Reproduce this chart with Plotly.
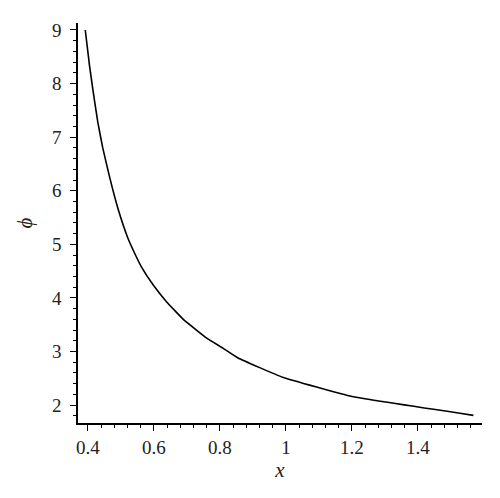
import plotly.graph_objects as go

x_vals = [0.392, 0.405, 0.415, 0.430, 0.445, 0.466, 0.491, 0.521, 0.542, 0.563, 0.598, 0.638, 0.689, 0.729, 0.760, 0.810, 0.855, 0.990, 1.200, 1.568]
phi_vals = [9.00, 8.33, 7.89, 7.28, 6.80, 6.25, 5.67, 5.12, 4.83, 4.57, 4.24, 3.93, 3.60, 3.40, 3.25, 3.06, 2.88, 2.52, 2.16, 1.81]

x_ticks = [0.4, 0.6, 0.8, 1.0, 1.2, 1.4]
x_tick_text = ["0.4", "0.6", "0.8", "1", "1.2", "1.4"]
y_ticks = [2, 3, 4, 5, 6, 7, 8, 9]

FONT = '"Liberation Serif", "DejaVu Serif", serif'

fig = go.Figure()
fig.add_trace(go.Scatter(x=x_vals, y=phi_vals, mode="lines",
                         line=dict(color="black", width=1.6, shape="spline", smoothing=0.3),
                         showlegend=False, hoverinfo="skip"))

fig.update_layout(
    width=492, height=490,
    margin=dict(l=70, r=18, t=12, b=75),
    paper_bgcolor="white", plot_bgcolor="white",
    font=dict(family=FONT, size=18, color="#222"),
    xaxis=dict(
        range=[0.37, 1.594], tickvals=x_ticks, ticktext=x_tick_text,
        showgrid=False, zeroline=False, showline=True, linecolor="black", linewidth=1.5,
        ticks="outside", ticklen=6, tickwidth=1.3, tickcolor="black",
        minor=dict(tick0=0.4, dtick=0.04, ticks="outside", ticklen=3, tickwidth=1, tickcolor="black", showgrid=False),
        title=dict(text="<i>x</i>", font=dict(family=FONT, size=21), standoff=5),
        tickfont=dict(family=FONT, size=19),
        ticklabelstandoff=0,
    ),
    yaxis=dict(
        range=[1.667, 9.13], tickvals=y_ticks,
        showgrid=False, zeroline=False, showline=True, linecolor="black", linewidth=1.5,
        ticks="outside", ticklen=6, tickwidth=1.3, tickcolor="black",
        minor=dict(tick0=2, dtick=0.2, ticks="outside", ticklen=3, tickwidth=1, tickcolor="black", showgrid=False),
        title=dict(text="<i>ϕ</i>", font=dict(family=FONT, size=21), standoff=14),
        tickfont=dict(family=FONT, size=19),
        ticklabelstandoff=5,
    ),
)

fig.write_html("out.html")
